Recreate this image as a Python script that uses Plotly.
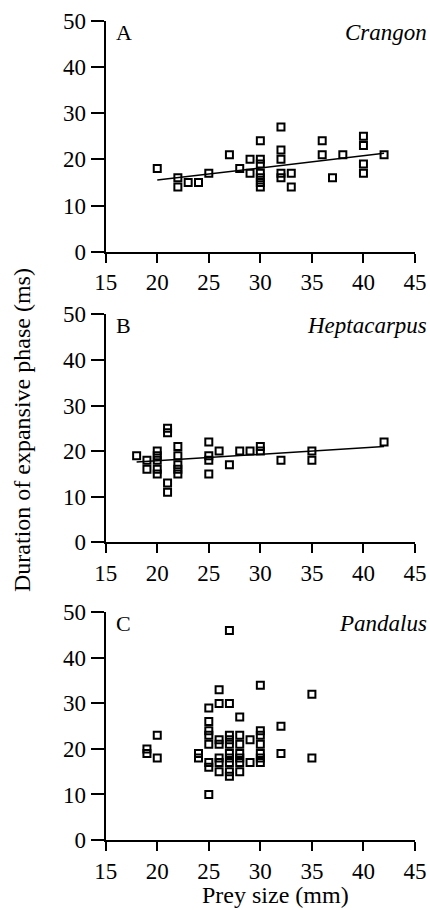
import plotly.graph_objects as go

# ---------------- data ----------------
a_x = [20, 22, 22, 23, 24, 25, 27, 28, 29, 29, 30, 30, 30, 30, 30, 30, 30,
       32, 32, 32, 32, 32, 33, 33, 36, 36, 37, 38, 40, 40, 40, 40, 42]
a_y = [18, 16, 14, 15, 15, 17, 21, 18, 20, 17, 24, 20, 19, 17, 16, 15, 14,
       27, 22, 20, 17, 16, 17, 14, 24, 21, 16, 21, 25, 23, 19, 17, 21]
a_fit_x = [20, 42]
a_fit_y = [15.5, 21.3]

b_x = [18, 19, 19, 20, 20, 20, 20, 20, 21, 21, 21, 21, 22, 22, 22, 22, 22,
       25, 25, 25, 25, 26, 27, 28, 29, 30, 30, 32, 35, 35, 42]
b_y = [19, 18, 16, 20, 19, 18, 16, 15, 25, 24, 13, 11, 21, 19, 17, 16, 15,
       22, 19, 18, 15, 20, 17, 20, 20, 21, 20, 18, 20, 18, 22]
b_fit_x = [18, 42]
b_fit_y = [17.6, 21.0]

c_x = [19, 19, 20, 20, 24, 24,
       25, 25, 25, 25, 25, 25, 25, 25,
       26, 26, 26, 26, 26, 26, 26,
       27, 27, 27, 27, 27, 27, 27, 27, 27, 27,
       28, 28, 28, 28, 28, 28, 28,
       29, 29,
       30, 30, 30, 30, 30, 30, 30,
       32, 32, 35, 35]
c_y = [20, 19, 23, 18, 19, 18,
       29, 26, 24, 23, 21, 17, 16, 10,
       33, 30, 22, 21, 18, 17, 15,
       46, 30, 23, 22, 21, 19, 18, 17, 15, 14,
       27, 23, 21, 19, 18, 17, 15,
       22, 17,
       34, 24, 23, 21, 19, 18, 17,
       25, 19, 32, 18]

panel_letters = ["A", "B", "C"]
species = ["Crangon", "Heptacarpus", "Pandalus"]
x_ticks = [15, 20, 25, 30, 35, 40, 45]
y_ticks = [0, 10, 20, 30, 40, 50]
x_title = "Prey size (mm)"
y_title = "Duration of expansive phase (ms)"

# ---------------- layout geometry ----------------
W, H = 430, 910
FONT = "Liberation Serif, Times New Roman, serif"
x_dom = [105.7 / W, 415 / W]
panels_px = [(20.7, 251.7), (314.3, 542.3), (612.3, 840.0)]

fig = go.Figure()
datasets = [(a_x, a_y, a_fit_x, a_fit_y), (b_x, b_y, b_fit_x, b_fit_y), (c_x, c_y, None, None)]

for i, (xs, ys, fx, fy) in enumerate(datasets):
    suffix = "" if i == 0 else str(i + 1)
    xa, ya = "x" + suffix, "y" + suffix
    if fx is not None:
        fig.add_trace(go.Scatter(x=fx, y=fy, mode="lines", xaxis=xa, yaxis=ya,
                                 line=dict(color="black", width=1.5),
                                 showlegend=False, hoverinfo="skip"))
    fig.add_trace(go.Scatter(x=xs, y=ys, mode="markers", xaxis=xa, yaxis=ya,
                             marker=dict(symbol="square-open", size=7, color="black",
                                         line=dict(color="black", width=2)),
                             showlegend=False))
    top, bot = panels_px[i]
    ydom = [1 - bot / H, 1 - top / H]
    common = dict(showgrid=False, zeroline=False, showline=True, linecolor="black",
                  linewidth=2, ticks="outside", tickcolor="black", tickwidth=2,
                  automargin=False,
                  tickfont=dict(family=FONT, size=23, color="black"))
    fig.layout["xaxis" + suffix] = dict(domain=x_dom, range=[15, 45], tickvals=x_ticks,
                                        ticklen=9, anchor=ya, **common)
    fig.layout["yaxis" + suffix] = dict(domain=ydom, range=[0, 50], tickvals=y_ticks,
                                        ticklen=13, anchor=xa, **common)
    fig.add_annotation(x=114 / W, y=1 - (top + 11.5) / H, xref="paper", yref="paper",
                       text=panel_letters[i], showarrow=False, xanchor="left", yanchor="middle",
                       font=dict(family=FONT, size=22, color="black"))
    fig.add_annotation(x=429 / W, y=1 - (top + 11.5) / H, xref="paper", yref="paper",
                       text="<i>" + species[i] + "</i>", showarrow=False,
                       xanchor="right", yanchor="middle",
                       font=dict(family=FONT, size=23, color="black"))

fig.add_annotation(x=275 / W, y=1 - 895 / H, xref="paper", yref="paper", text=x_title,
                   showarrow=False, xanchor="center", yanchor="middle",
                   font=dict(family=FONT, size=24, color="black"))
fig.add_annotation(x=22 / W, y=1 - 430 / H, xref="paper", yref="paper", text=y_title,
                   showarrow=False, textangle=-90, xanchor="center", yanchor="middle",
                   font=dict(family=FONT, size=24, color="black"))

fig.update_layout(width=W, height=H, margin=dict(l=0, r=0, t=0, b=0),
                  paper_bgcolor="white", plot_bgcolor="white")

fig.write_html("out.html")
